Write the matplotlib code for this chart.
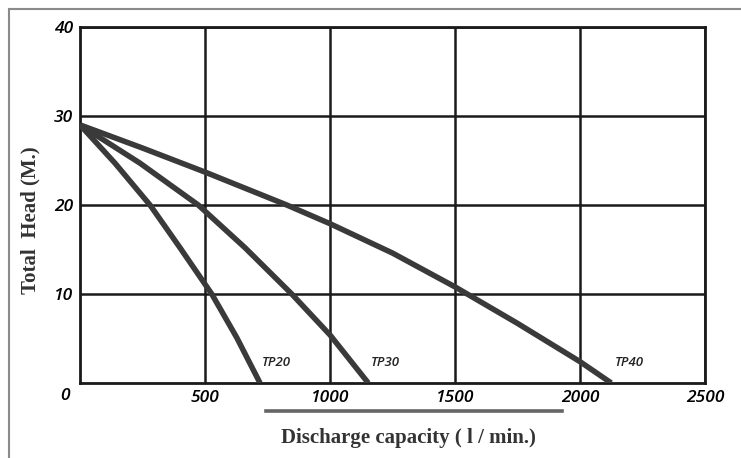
import matplotlib.pyplot as plt
from matplotlib.lines import Line2D

# pump curves (flow l/min, head m)
tp20_q = [0, 140, 280, 400, 527, 627, 720]
tp20_h = [29, 24.7, 20, 15.2, 10, 5.1, 0]
tp30_q = [0, 240, 473, 660, 847, 1000, 1153]
tp30_h = [29, 24.7, 20, 15.2, 10, 5.4, 0]
tp40_q = [0, 250, 500, 827, 1000, 1250, 1500, 1750, 2000, 2125]
tp40_h = [29, 26.4, 23.7, 20, 17.9, 14.6, 10.8, 6.7, 2.4, 0]

names = ['TP20', 'TP30', 'TP40']
label_pos = [(728, 2.3), (1165, 2.3), (2140, 2.3)]

x_ticks = [500, 1000, 1500, 2000, 2500]
y_ticks = [10, 20, 30, 40]

W, H = 741, 458
fig = plt.figure(figsize=(W / 100, H / 100), dpi=100)
ax = fig.add_axes([80 / W, 1 - 383 / H, 625 / W, 356 / H])

tick_font = dict(family='Open Sans', style='italic', fontsize=12.5, fontweight='semibold')

for q, h in [(tp20_q, tp20_h), (tp30_q, tp30_h), (tp40_q, tp40_h)]:
    ax.plot(q, h, color='#3a3a3a', lw=4, solid_capstyle='butt',
            solid_joinstyle='round', zorder=3)

for name, (qx, hy) in zip(names, label_pos):
    ax.text(qx, hy, name, fontsize=9.5, style='italic', family='Open Sans',
            fontweight='semibold', color='#222222', va='center', ha='left')

ax.set_xlim(0, 2500)
ax.set_ylim(0, 40)
ax.set_xticks(x_ticks)
ax.set_yticks(y_ticks)
ax.set_xticklabels([str(v) for v in x_ticks], **tick_font)
ax.set_yticklabels([str(v) for v in y_ticks], **tick_font)
ax.tick_params(length=0, pad=5)
ax.grid(True, color='#1a1a1a', lw=1.8)
for s in ax.spines.values():
    s.set_color('#1a1a1a')
    s.set_linewidth(2)

# shared zero label sits down-left of the origin
fig.text(65 / W, 1 - 396 / H, '0', ha='center', va='center', **tick_font)

fig.text(30 / W, 1 - 220 / H, 'Total  Head (M.)', rotation=90, ha='center', va='center',
         family='Liberation Serif', fontweight='bold', fontsize=15, color='#333333')
fig.text(408 / W, 1 - 438 / H, 'Discharge capacity ( l / min.)', ha='center', va='center',
         family='Liberation Serif', fontweight='bold', fontsize=15, color='#333333')
fig.add_artist(Line2D([266 / W, 562 / W], [1 - 411 / H, 1 - 411 / H], color='#666666', lw=2.6))

# outer frame (left and top only)
fig.add_artist(Line2D([9 / W, 9 / W], [0, 1 - 9 / H], color='#8a8a8a', lw=1.5))
fig.add_artist(Line2D([9 / W, 1], [1 - 9 / H, 1 - 9 / H], color='#8a8a8a', lw=1.5))

fig.savefig('out.png', dpi=100)
